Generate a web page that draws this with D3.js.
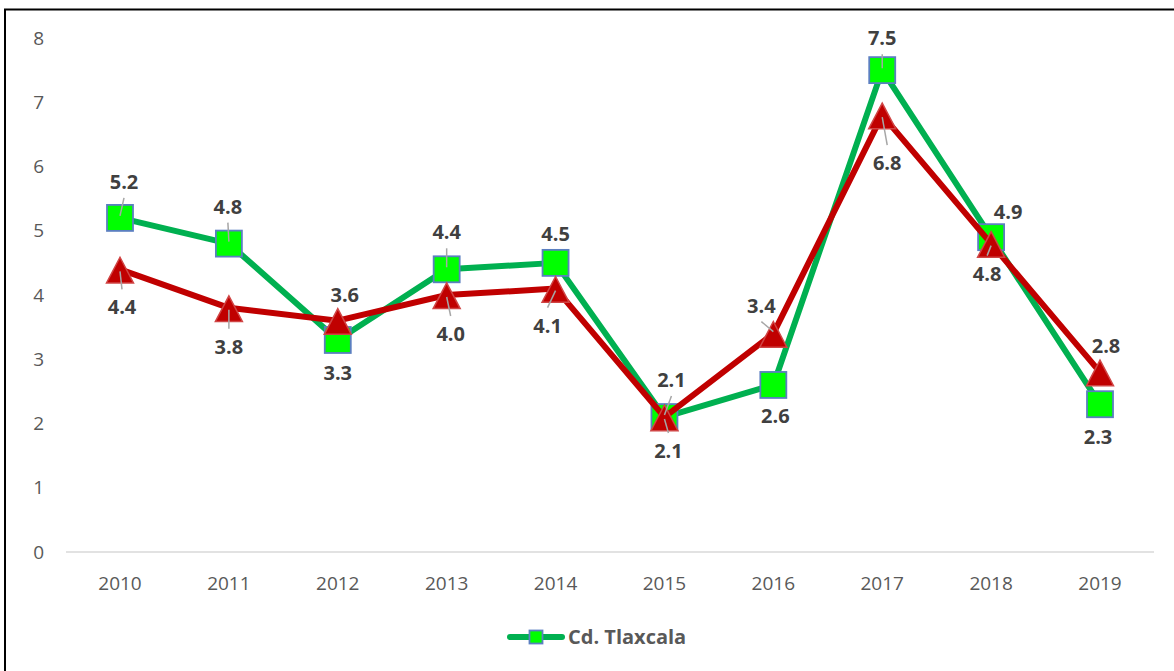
<!DOCTYPE html>
<html><head><meta charset="utf-8">
<script src="https://cdn.jsdelivr.net/npm/d3@7"></script>
<style>body{margin:0;background:#fff;}svg{display:block;}</style>
</head><body>
<script>
const years = ["2010","2011","2012","2013","2014","2015","2016","2017","2018","2019"];
const greenValues = [5.2,4.8,3.3,4.4,4.5,2.1,2.6,7.5,4.9,2.3];
const redValues = [4.4,3.8,3.6,4.0,4.1,2.1,3.4,6.8,4.8,2.8];
const yTicks = [0,1,2,3,4,5,6,7,8];
const legendLabel = "Cd. Tlaxcala";
// label placement (dx, dy, leader?) relative to point — layout only
const greenLabelOff = [[4,-36,1],[-1,-37,1],[0,33,0],[0,-37,1],[0,-29,0],[7,-37,1],[2,31,0],[0,-32,1],[17,-25,0],[-2,33,0]];
const redLabelOff = [[2,38,1],[0,39,1],[7,-26,0],[4,39,1],[-8,37,1],[4,34,1],[-12,-28,1],[5,48,1],[-4,30,1],[6,-26,0]];

const W=1174,H=671;
const svg=d3.select("body").append("svg").attr("width",W).attr("height",H);
svg.append("rect").attr("x",5).attr("y",9.5).attr("width",W+10).attr("height",H+10)
  .attr("fill","none").attr("stroke","#000").attr("stroke-width",2);

const x=d3.scalePoint().domain(years).range([120,1100]);
const y=d3.scaleLinear().domain([0,8]).range([552,38]);

svg.append("line").attr("x1",66).attr("x2",1154).attr("y1",y(0)).attr("y2",y(0))
  .attr("stroke","#D9D9D9").attr("stroke-width",1.5);

const font="'Open Sans', 'Liberation Sans', sans-serif";
svg.append("g").selectAll("text").data(yTicks).join("text")
  .attr("x",44).attr("y",d=>y(d)).attr("dy","0.35em").attr("text-anchor","end")
  .attr("font-family",font).attr("font-size",19).attr("fill","#595959").text(d=>d);
svg.append("g").selectAll("text").data(years).join("text")
  .attr("x",d=>x(d)).attr("y",583).attr("dy","0.35em").attr("text-anchor","middle")
  .attr("font-family",font).attr("font-size",19).attr("fill","#595959").text(d=>d);

const line=d3.line().x((d,i)=>x(years[i])).y(d=>y(d));
function square(g,cx,cy,s){
  g.append("rect").attr("x",cx-s/2).attr("y",cy-s/2).attr("width",s).attr("height",s)
   .attr("fill","#00FF00").attr("stroke","#5B7FC0").attr("stroke-width",1.8);
}
function tri(g,cx,cy,s){
  const h=s*0.95;
  g.append("path").attr("d",`M${cx},${cy-h*0.47}L${cx+s/2},${cy+h*0.53}L${cx-s/2},${cy+h*0.53}Z`)
   .attr("fill","#C00000").attr("stroke","#D04545").attr("stroke-width",1.5);
}
const gG=svg.append("g");
gG.append("path").datum(greenValues).attr("d",line).attr("fill","none")
  .attr("stroke","#00B050").attr("stroke-width",6).attr("stroke-linejoin","round");
greenValues.forEach((v,i)=>square(gG,x(years[i]),y(v),26));
const gR=svg.append("g");
gR.append("path").datum(redValues).attr("d",line).attr("fill","none")
  .attr("stroke","#C00000").attr("stroke-width",6).attr("stroke-linejoin","round");
redValues.forEach((v,i)=>tri(gR,x(years[i]),y(v),27));

function labels(vals,offs){
  const g=svg.append("g");
  vals.forEach((v,i)=>{
    const px=x(years[i]),py=y(v);
    const [dx,dy,ld]=offs[i];
    const lx=px+dx,ly=py+dy;
    if(ld){
      const sy=ly+(dy<0?16:-18);
      g.append("line").attr("x1",lx).attr("y1",sy).attr("x2",px).attr("y2",py+(dy<0?-2:2))
        .attr("stroke","#A6A6A6").attr("stroke-width",1.5);
    }
    g.append("text").attr("x",lx).attr("y",ly).attr("dy","0.35em").attr("text-anchor","middle")
      .attr("font-family",font).attr("font-weight","bold").attr("font-size",20)
      .attr("fill","#404040").text(v.toFixed(1));
  });
}
labels(greenValues,greenLabelOff);
labels(redValues,redLabelOff);

const lg=svg.append("g");
lg.append("line").attr("x1",510).attr("x2",562).attr("y1",637).attr("y2",637)
  .attr("stroke","#00B050").attr("stroke-width",6).attr("stroke-linecap","round");
square(lg,536,637,13);
lg.append("text").attr("x",568).attr("y",637).attr("dy","0.35em")
  .attr("font-family",font).attr("font-weight","bold").attr("font-size",20)
  .attr("fill","#595959").text(legendLabel);
</script>
</body></html>
